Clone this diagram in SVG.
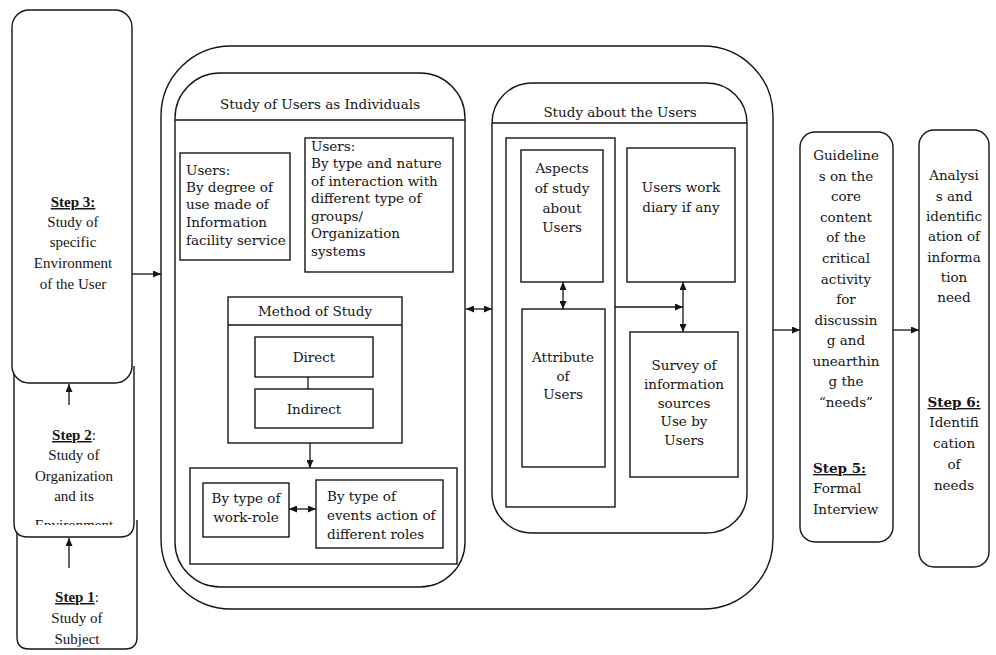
<svg xmlns="http://www.w3.org/2000/svg" width="996" height="655" viewBox="0 0 996 655">
  <defs>
    <style>
      .bx { fill: none; stroke: #151515; stroke-width: 1.4; }
      .wb { fill: #ffffff; stroke: #151515; stroke-width: 1.4; }
      .ln { fill: none; stroke: #151515; stroke-width: 1.3; }
      .t { font-family: "DejaVu Serif", "Liberation Serif", serif; font-size: 13.5px; fill: #151515; }
      .tc { text-anchor: middle; }
      .s { font-family: "Liberation Serif", "DejaVu Serif", serif; font-size: 15px; fill: #151515; text-anchor: middle; }
      .hd { font-weight: bold; text-decoration: underline; }
    </style>
    <marker id="ah" viewBox="0 0 8 7" refX="8" refY="3.5" markerWidth="8" markerHeight="7" markerUnits="userSpaceOnUse" orient="auto-start-reverse">
      <path d="M0,0 L8,3.5 L0,7 z" fill="#151515"/>
    </marker>
    <clipPath id="step2clip">
      <rect x="10" y="290" width="130" height="235"/>
    </clipPath>
  </defs>

  <!-- Left column: steps 1 to 3, each tucked under the one above -->
  <g id="step1">
    <path class="wb" d="M17,520 L17,637 Q17,649 29,649 L125,649 Q137,649 137,637 L137,520"/>
    <text class="s" x="77" y="602"><tspan class="hd">Step 1</tspan>:</text>
    <text class="s" x="77" y="623">Study of</text>
    <text class="s" x="77" y="644">Subject</text>
  </g>
  <g id="step2">
    <path class="wb" d="M14,366 L14,523 Q14,537 28,537 L120,537 Q134,537 134,523 L134,366"/>
    <g clip-path="url(#step2clip)">
      <text class="s" x="74" y="440"><tspan class="hd">Step 2</tspan>:</text>
      <text class="s" x="74" y="460">Study of</text>
      <text class="s" x="74" y="481">Organization</text>
      <text class="s" x="74" y="501">and its</text>
      <text class="s" x="74" y="530">Environment</text>
    </g>
  </g>
  <g id="step3">
    <rect class="wb" x="12" y="10" width="120" height="373" rx="17"/>
    <text class="s" x="73" y="207"><tspan class="hd">Step 3:</tspan></text>
    <text class="s" x="73" y="227">Study of</text>
    <text class="s" x="73" y="247">specific</text>
    <text class="s" x="73" y="268">Environment</text>
    <text class="s" x="73" y="289">of the User</text>
  </g>

  <!-- Step 4 frame holding both studies -->
  <g id="study-frame">
    <rect class="bx" x="161" y="46" width="612" height="563" rx="70"/>
  </g>

  <!-- Study of users as individuals -->
  <g id="individuals">
    <rect class="bx" x="175" y="73" width="290" height="514" rx="45"/>
    <line class="ln" x1="175" y1="120" x2="465" y2="120"/>
    <text class="t tc" x="320" y="109">Study of Users as Individuals</text>
  </g>
  <g id="degree-of-use">
    <rect class="bx" x="180" y="153" width="110" height="107"/>
    <text class="t" x="186" y="175">Users:</text>
    <text class="t" x="186" y="192">By degree of</text>
    <text class="t" x="186" y="209">use made of</text>
    <text class="t" x="186" y="227">Information</text>
    <text class="t" x="186" y="245">facility service</text>
  </g>
  <g id="interaction-type">
    <rect class="bx" x="305" y="138" width="148" height="134"/>
    <text class="t" x="311" y="151">Users:</text>
    <text class="t" x="311" y="168">By type and nature</text>
    <text class="t" x="311" y="186">of interaction with</text>
    <text class="t" x="311" y="203">different type of</text>
    <text class="t" x="311" y="221">groups/</text>
    <text class="t" x="311" y="238">Organization</text>
    <text class="t" x="311" y="256">systems</text>
  </g>
  <g id="method-of-study">
    <rect class="bx" x="228" y="297" width="174" height="146"/>
    <line class="ln" x1="228" y1="325" x2="402" y2="325"/>
    <text class="t tc" x="315" y="316">Method of Study</text>
  </g>
  <g id="direct">
    <rect class="bx" x="255" y="337" width="118" height="40"/>
    <text class="t tc" x="314" y="362">Direct</text>
  </g>
  <g id="indirect">
    <rect class="bx" x="255" y="389" width="118" height="39"/>
    <text class="t tc" x="314" y="414">Indirect</text>
  </g>
  <g id="role-group">
    <rect class="bx" x="190" y="468" width="267" height="96"/>
  </g>
  <g id="work-role">
    <rect class="bx" x="203" y="483" width="86" height="54"/>
    <text class="t tc" x="246" y="503">By type of</text>
    <text class="t tc" x="246" y="522">work-role</text>
  </g>
  <g id="events-action">
    <rect class="bx" x="316" y="480" width="127" height="68"/>
    <text class="t" x="327" y="501">By type of</text>
    <text class="t" x="327" y="520">events action of</text>
    <text class="t" x="327" y="539">different roles</text>
  </g>

  <!-- Study about the users -->
  <g id="about-users">
    <rect class="bx" x="492" y="83" width="255" height="450" rx="40"/>
    <line class="ln" x1="492" y1="123" x2="747" y2="123"/>
    <text class="t tc" x="620" y="117">Study about the Users</text>
  </g>
  <g id="aspects-group">
    <rect class="bx" x="506" y="138" width="109" height="369"/>
  </g>
  <g id="aspects">
    <rect class="bx" x="521" y="150" width="82" height="132"/>
    <text class="t tc" x="562" y="173">Aspects</text>
    <text class="t tc" x="562" y="193">of study</text>
    <text class="t tc" x="562" y="213">about</text>
    <text class="t tc" x="562" y="232">Users</text>
  </g>
  <g id="attribute">
    <rect class="bx" x="522" y="309" width="83" height="158"/>
    <text class="t tc" x="563" y="362">Attribute</text>
    <text class="t tc" x="563" y="381">of</text>
    <text class="t tc" x="563" y="399">Users</text>
  </g>
  <g id="work-diary">
    <rect class="bx" x="627" y="148" width="108" height="134"/>
    <text class="t tc" x="681" y="192">Users work</text>
    <text class="t tc" x="681" y="212">diary if any</text>
  </g>
  <g id="survey">
    <rect class="bx" x="630" y="332" width="108" height="145"/>
    <text class="t tc" x="684" y="370">Survey of</text>
    <text class="t tc" x="684" y="389">information</text>
    <text class="t tc" x="684" y="408">sources</text>
    <text class="t tc" x="684" y="426">Use by</text>
    <text class="t tc" x="684" y="445">Users</text>
  </g>

  <!-- Step 5 -->
  <g id="step5">
    <rect class="bx" x="800" y="132" width="93" height="410" rx="15"/>
    <text class="t tc" x="846" y="160">Guideline</text>
    <text class="t tc" x="846" y="181">s on the</text>
    <text class="t tc" x="846" y="201">core</text>
    <text class="t tc" x="846" y="222">content</text>
    <text class="t tc" x="846" y="242">of the</text>
    <text class="t tc" x="846" y="263">critical</text>
    <text class="t tc" x="846" y="284">activity</text>
    <text class="t tc" x="846" y="304">for</text>
    <text class="t tc" x="846" y="325">discussin</text>
    <text class="t tc" x="846" y="345">g and</text>
    <text class="t tc" x="846" y="366">unearthin</text>
    <text class="t tc" x="846" y="386">g the</text>
    <text class="t tc" x="846" y="407">“needs”</text>
    <text class="t" x="813" y="473"><tspan class="hd">Step 5:</tspan></text>
    <text class="t" x="813" y="493">Formal</text>
    <text class="t" x="813" y="514">Interview</text>
  </g>

  <!-- Step 6 -->
  <g id="step6">
    <rect class="bx" x="919" y="130" width="70" height="437" rx="15"/>
    <text class="t tc" x="954" y="180">Analysi</text>
    <text class="t tc" x="954" y="201">s and</text>
    <text class="t tc" x="954" y="221">identific</text>
    <text class="t tc" x="954" y="241">ation of</text>
    <text class="t tc" x="954" y="262">informa</text>
    <text class="t tc" x="954" y="282">tion</text>
    <text class="t tc" x="954" y="302">need</text>
    <text class="t tc" x="954" y="407"><tspan class="hd">Step 6:</tspan></text>
    <text class="t tc" x="954" y="427">Identifi</text>
    <text class="t tc" x="954" y="448">cation</text>
    <text class="t tc" x="954" y="469">of</text>
    <text class="t tc" x="954" y="490">needs</text>
  </g>

  <!-- Connectors -->
  <g id="connectors">
    <line class="ln" x1="69" y1="568" x2="69" y2="538" marker-end="url(#ah)"/>
    <line class="ln" x1="69" y1="405" x2="69" y2="384" marker-end="url(#ah)"/>
    <line class="ln" x1="132" y1="274" x2="161" y2="274" marker-end="url(#ah)"/>
    <line class="ln" x1="308" y1="377" x2="308" y2="389"/>
    <line class="ln" x1="310" y1="443" x2="310" y2="468" marker-end="url(#ah)"/>
    <line class="ln" x1="289" y1="509" x2="316" y2="509" marker-start="url(#ah)" marker-end="url(#ah)"/>
    <line class="ln" x1="466" y1="309" x2="492" y2="309" marker-start="url(#ah)" marker-end="url(#ah)"/>
    <line class="ln" x1="563" y1="282" x2="563" y2="309" marker-start="url(#ah)" marker-end="url(#ah)"/>
    <line class="ln" x1="615" y1="307" x2="683" y2="307" marker-end="url(#ah)"/>
    <line class="ln" x1="683" y1="282" x2="683" y2="332" marker-start="url(#ah)" marker-end="url(#ah)"/>
    <line class="ln" x1="773" y1="330" x2="800" y2="330" marker-end="url(#ah)"/>
    <line class="ln" x1="893" y1="330" x2="919" y2="330" marker-end="url(#ah)"/>
  </g>
</svg>
